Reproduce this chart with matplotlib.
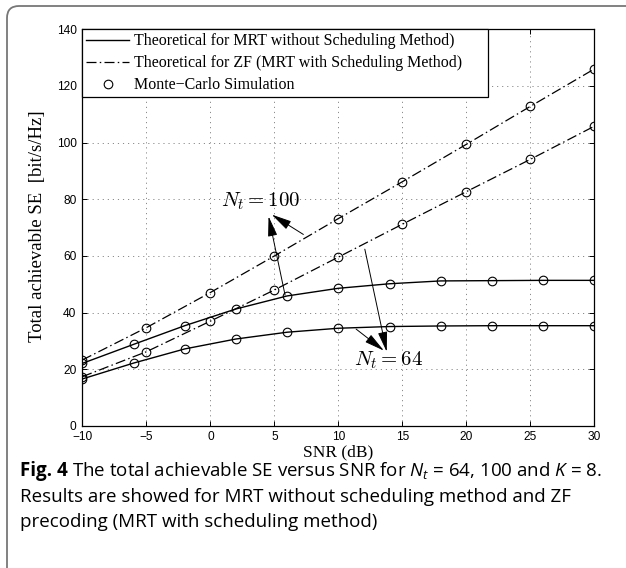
import matplotlib
matplotlib.use("Agg")
import matplotlib.pyplot as plt
from matplotlib.lines import Line2D
from matplotlib.patches import FancyBboxPatch


snr_mrt = [-10, -6, -2, 2, 6, 10, 14, 18, 22, 26, 30]
se_mrt_100 = [22.1, 28.8, 35.4, 41.3, 45.9, 48.6, 50.2, 51.2, 51.3, 51.4, 51.4]
se_mrt_64 = [16.6, 22.2, 27.2, 30.7, 33.1, 34.5, 35.1, 35.3, 35.4, 35.4, 35.4]

snr_zf = [-10, -5, 0, 5, 10, 15, 20, 25, 30]
se_zf_100 = [23.3, 34.7, 47.1, 60.0, 73.2, 86.2, 99.4, 112.8, 126.0]
se_zf_64 = [17.4, 26.2, 37.0, 48.0, 59.6, 71.2, 82.7, 94.1, 105.8]

legend_labels = [
    "Theoretical for MRT without Scheduling Method)",
    "Theoretical for ZF (MRT with Scheduling Method)",
    "Monte\u2212Carlo Simulation",
]

x_ticks = [-10, -5, 0, 5, 10, 15, 20, 25, 30]
y_ticks = [0, 20, 40, 60, 80, 100, 120, 140]

serif = ["Liberation Serif", "DejaVu Serif"]
sans = ["Liberation Sans", "DejaVu Sans"]
cap_font = "Open Sans"

plt.rcParams["mathtext.fontset"] = "custom"
plt.rcParams["mathtext.rm"] = cap_font
plt.rcParams["mathtext.it"] = cap_font + ":italic"

fig = plt.figure(figsize=(6.26, 5.68), dpi=100)

# frame round the figure, open to the right and bottom
frame = FancyBboxPatch((0.07, -0.3), 7.0, 5.62 + 0.3,
                       boxstyle="round,pad=0,rounding_size=0.12",
                       transform=fig.dpi_scale_trans, fill=False,
                       edgecolor="#777777", lw=1.3)
fig.patches.append(frame)

ax = fig.add_axes([0.1315, 0.25, 0.8179, 0.6984])

dashdot = (8, 2.6, 1.2, 2.6)
mk = dict(marker="o", mfc="none", mec="k", ms=6.2, mew=0.8)

ax.plot(snr_mrt, se_mrt_100, color="k", lw=1.0, **mk)
ax.plot(snr_mrt, se_mrt_64, color="k", lw=1.0, **mk)
ax.plot(snr_zf, se_zf_100, color="k", lw=0.9, dashes=dashdot, **mk)
ax.plot(snr_zf, se_zf_64, color="k", lw=0.9, dashes=dashdot, **mk)

ax.set_xlim(-10, 30)
ax.set_ylim(0, 140)
ax.set_xticks(x_ticks)
ax.set_yticks(y_ticks)
ax.grid(True, color="#8a8a8a", lw=0.7, linestyle=(0, (1.2, 4.0)))
ax.tick_params(direction="in", length=3.5, width=0.7, top=True, right=True,
               labelsize=8.6)
ax.tick_params(axis="x", pad=3.8)
ax.tick_params(axis="y", pad=4.2)
for lab in ax.get_xticklabels() + ax.get_yticklabels():
    lab.set_family(sans)
for sp in ax.spines.values():
    sp.set_linewidth(0.9)

ax.set_xlabel("SNR (dB)", family=serif, fontsize=12.5, va="top")
ax.xaxis.set_label_coords(0.5, -0.046)
ax.set_ylabel("Total achievable SE  [bit/s/Hz]", family=serif, fontsize=13.5)
ax.yaxis.set_label_coords(-0.07, 0.504)

handles = [
    Line2D([], [], color="k", lw=1.0),
    Line2D([], [], color="k", lw=0.9, dashes=dashdot),
    Line2D([], [], ls="none", **mk),
]
leg = ax.legend(handles, legend_labels, loc="upper left",
                bbox_to_anchor=(0, 0.8, (488 - 82.3) / 512, 0.2),
                mode="expand", borderaxespad=0, fancybox=False,
                framealpha=1, edgecolor="k", prop={"family": serif, "size": 11.5},
                handlelength=2.7, handletextpad=0.3, borderpad=0.25,
                labelspacing=0.38)
leg.get_frame().set_linewidth(0.9)

# N_t annotations
ax.text(3.92, 79.2, r"$N_t = 100$", fontsize=15, ha="center", va="center",
        math_fontfamily="cm")
ax.text(13.9, 23.3, r"$N_t = 64$", fontsize=15, ha="center", va="center",
        math_fontfamily="cm")
arrow = dict(arrowstyle="-|>,head_length=0.95,head_width=0.22", color="k",
             lw=0.7, shrinkA=0, shrinkB=0, mutation_scale=13)
ax.annotate("", xy=(4.8, 74.6), xytext=(7.27, 67.6), arrowprops=arrow)
ax.annotate("", xy=(4.55, 74.0), xytext=(5.84, 46.2), arrowprops=arrow)
ax.annotate("", xy=(13.56, 26.6), xytext=(11.39, 34.2), arrowprops=arrow)
ax.annotate("", xy=(13.78, 26.2), xytext=(12.07, 62.4), arrowprops=arrow)

# caption
cap_size = 13.5
t1 = fig.text(20 / 626, 1 - 476 / 568, "Fig. 4", family=cap_font,
              weight="bold", fontsize=cap_size, va="baseline")
r = fig.canvas.get_renderer()
x1 = t1.get_window_extent(r).x1 / fig.bbox.width
fig.text(x1 + 4 / 626, 1 - 476 / 568,
         "The total achievable SE versus SNR for $N_t$ = 64, 100 and $K$ = 8.",
         family=cap_font, fontsize=cap_size, va="baseline")
fig.text(20 / 626, 1 - 501.7 / 568,
         "Results are showed for MRT without scheduling method and ZF",
         family=cap_font, fontsize=cap_size, va="baseline")
fig.text(20 / 626, 1 - 526.7 / 568,
         "precoding (MRT with scheduling method)",
         family=cap_font, fontsize=cap_size, va="baseline")

fig.savefig("out.png", dpi=100)
